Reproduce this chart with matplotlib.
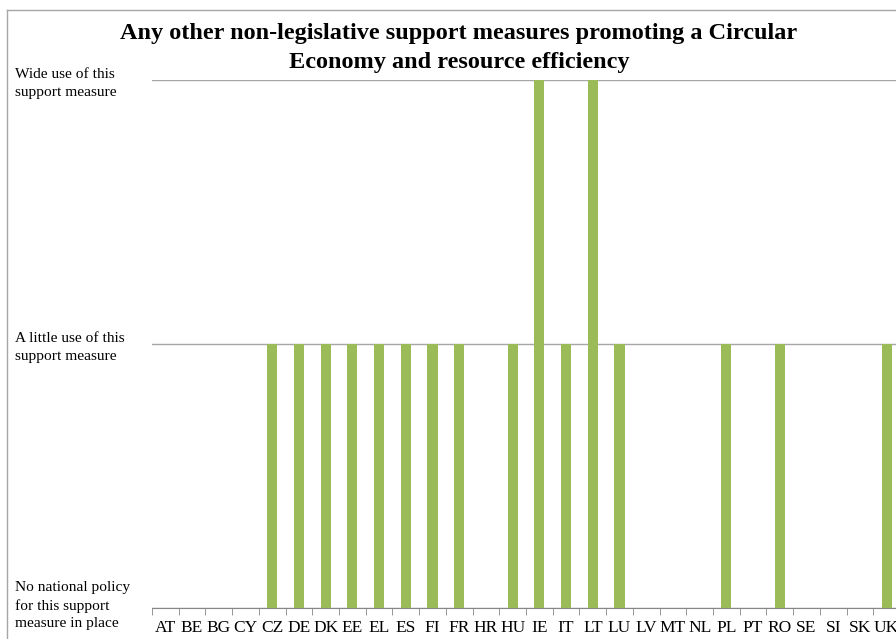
import numpy as np
import matplotlib.pyplot as plt
import matplotlib.transforms as mtransforms
from matplotlib.lines import Line2D

countries = ['AT', 'BE', 'BG', 'CY', 'CZ', 'DE', 'DK', 'EE', 'EL', 'ES', 'FI', 'FR', 'HR', 'HU',
             'IE', 'IT', 'LT', 'LU', 'LV', 'MT', 'NL', 'PL', 'PT', 'RO', 'SE', 'SI', 'SK', 'UK']
values = [0, 0, 0, 0, 1, 1, 1, 1, 1, 1, 1, 1, 0, 1,
          2, 1, 2, 1, 0, 0, 0, 1, 0, 1, 0, 0, 0, 1]
level_labels = ['No national policy\nfor this support\nmeasure in place',
                'A little use of this\nsupport measure',
                'Wide use of this\nsupport measure']
title = 'Any other non-legislative support measures promoting a Circular\nEconomy and resource efficiency'

plt.rcParams['font.family'] = ['Liberation Serif', 'DejaVu Serif']

fig = plt.figure(figsize=(8.96, 6.39), dpi=100)
ax = fig.add_axes([152/896, 1 - 608/639, 748/896, (608 - 80)/639])

x = np.arange(len(countries))
ax.bar(x, values, width=0.38, color='#9BBB59', zorder=3)

ax.set_xlim(-0.5, len(countries) - 0.5)
ax.set_ylim(0, 2)

# ticks: labels at centres, marks at category boundaries
ax.set_xticks(x)
ax.set_xticklabels(countries, fontsize=12.5)
ax.set_xticks(np.arange(-0.5, len(countries), 1), minor=True)
ax.tick_params(axis='x', which='major', length=0, pad=9)
ax.tick_params(axis='x', which='minor', length=5, color='#868686', direction='out')

ax.set_yticks([0, 1, 2])
ylabs = ax.set_yticklabels(level_labels, fontsize=11.1, ha='left', linespacing=1.45)
ax.tick_params(axis='y', length=0, pad=99)
# bottom label sits a little above the axis line
ylabs[0].set_transform(ylabs[0].get_transform() +
                       mtransforms.ScaledTranslation(0, 6/100, fig.dpi_scale_trans))

ax.grid(axis='y', color='#A6A6A6', linewidth=1, zorder=0)
for s in ['top', 'right', 'left']:
    ax.spines[s].set_visible(False)
ax.spines['bottom'].set_color('#868686')

fig.text(459/896, 1 - 48/639, title, ha='center', va='center', fontsize=17.5,
         fontweight='bold', linespacing=1.5)

# chart area border (cropped on right and bottom)
bx = 7/896
by = 1 - 10/639
fig.add_artist(Line2D([bx, bx], [0, by], color='#A6A6A6', linewidth=1))
fig.add_artist(Line2D([bx, 1], [by, by], color='#A6A6A6', linewidth=1))

fig.savefig('out.png', dpi=100)
